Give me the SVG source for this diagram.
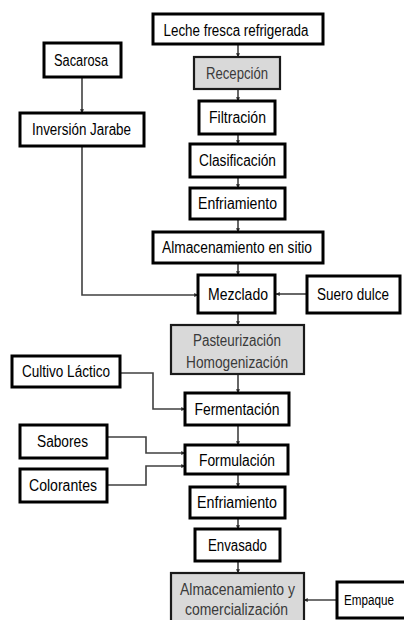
<svg xmlns="http://www.w3.org/2000/svg" width="404" height="620" viewBox="0 0 404 620">
<style>
.b{fill:#fff;stroke:#000;stroke-width:3}
.g{fill:#d9d9d9;stroke:#1a1a1a;stroke-width:2.2}
.t{font-family:"Liberation Sans Narrow","Liberation Sans",Arial,sans-serif;font-size:16px;fill:#000;text-anchor:middle}
.tg{font-family:"Liberation Sans Narrow","Liberation Sans",Arial,sans-serif;font-size:16px;fill:#3a3a3a;text-anchor:middle}
.c{fill:none;stroke:#404040;stroke-width:1.6}
</style>
<defs>
<marker id="a" viewBox="0 0 8 8" refX="7.5" refY="4" markerWidth="4" markerHeight="4" orient="auto" markerUnits="userSpaceOnUse">
<path d="M0,0 L8,4 L0,8 Z" fill="#262626"/>
</marker>
</defs>
<rect width="404" height="620" fill="#fff"/>
<g id="connectors">
<path class="c" marker-end="url(#a)" d="M238,44 V57"/>
<path class="c" marker-end="url(#a)" d="M238,89 V101"/>
<path class="c" marker-end="url(#a)" d="M238,134 V144"/>
<path class="c" marker-end="url(#a)" d="M238,177 V188"/>
<path class="c" marker-end="url(#a)" d="M238,219 V232"/>
<path class="c" marker-end="url(#a)" d="M238,263 V275"/>
<path class="c" marker-end="url(#a)" d="M238,313 V325"/>
<path class="c" marker-end="url(#a)" d="M238,374 V393"/>
<path class="c" marker-end="url(#a)" d="M238,425 V445"/>
<path class="c" marker-end="url(#a)" d="M238,474 V487"/>
<path class="c" marker-end="url(#a)" d="M238,518 V529"/>
<path class="c" marker-end="url(#a)" d="M238,561 V573"/>
<path class="c" marker-end="url(#a)" d="M82,77 V113"/>
<path class="c" marker-end="url(#a)" d="M82,146 V295 H198"/>
<path class="c" marker-end="url(#a)" d="M307,294 H276"/>
<path class="c" marker-end="url(#a)" d="M120,373 H153 V409 H185"/>
<path class="c" marker-end="url(#a)" d="M107,437 H146 V453 H185"/>
<path class="c" marker-end="url(#a)" d="M107,485 H146 V466 H185"/>
<path class="c" marker-end="url(#a)" d="M337,600 H304"/>
</g>
<g id="leche"><rect class="b" x="153" y="14" width="170" height="30"/><text class="t" x="236" y="36" textLength="145" lengthAdjust="spacingAndGlyphs">Leche fresca refrigerada</text></g>
<g id="recepcion"><rect class="g" x="194" y="57" width="86" height="32"/><text class="tg" x="237" y="79" textLength="62" lengthAdjust="spacingAndGlyphs">Recepción</text></g>
<g id="filtracion"><rect class="b" x="199" y="101" width="76" height="33"/><text class="t" x="237.5" y="123" textLength="57" lengthAdjust="spacingAndGlyphs">Filtración</text></g>
<g id="clasificacion"><rect class="b" x="190" y="144" width="95" height="33"/><text class="t" x="237.5" y="166" textLength="77" lengthAdjust="spacingAndGlyphs">Clasificación</text></g>
<g id="enfriamiento1"><rect class="b" x="190" y="188" width="95" height="31"/><text class="t" x="237.5" y="209" textLength="79" lengthAdjust="spacingAndGlyphs">Enfriamiento</text></g>
<g id="almacenamiento-sitio"><rect class="b" x="153" y="232" width="170" height="31"/><text class="t" x="237" y="253" textLength="150" lengthAdjust="spacingAndGlyphs">Almacenamiento en sitio</text></g>
<g id="mezclado"><rect class="b" x="198" y="275" width="77" height="38"/><text class="t" x="238" y="300" textLength="60" lengthAdjust="spacingAndGlyphs">Mezclado</text></g>
<g id="suero"><rect class="b" x="307" y="276" width="93" height="37"/><text class="t" x="353" y="300" textLength="72" lengthAdjust="spacingAndGlyphs">Suero dulce</text></g>
<g id="pasteurizacion"><rect class="g" x="171" y="325" width="133" height="49"/><text class="tg" x="237" y="346" textLength="88" lengthAdjust="spacingAndGlyphs">Pasteurización</text><text class="tg" x="237" y="368" textLength="102" lengthAdjust="spacingAndGlyphs">Homogenización</text></g>
<g id="cultivo"><rect class="b" x="12" y="356" width="108" height="31"/><text class="t" x="66" y="377" textLength="88" lengthAdjust="spacingAndGlyphs">Cultivo Láctico</text></g>
<g id="fermentacion"><rect class="b" x="185" y="393" width="104" height="32"/><text class="t" x="237" y="415" textLength="85" lengthAdjust="spacingAndGlyphs">Fermentación</text></g>
<g id="sabores"><rect class="b" x="20" y="425" width="87" height="33"/><text class="t" x="62.5" y="447" textLength="51" lengthAdjust="spacingAndGlyphs">Sabores</text></g>
<g id="formulacion"><rect class="b" x="185" y="445" width="103" height="29"/><text class="t" x="237" y="466" textLength="76" lengthAdjust="spacingAndGlyphs">Formulación</text></g>
<g id="colorantes"><rect class="b" x="20" y="469" width="87" height="33"/><text class="t" x="63" y="491" textLength="68" lengthAdjust="spacingAndGlyphs">Colorantes</text></g>
<g id="enfriamiento2"><rect class="b" x="190" y="487" width="95" height="31"/><text class="t" x="237" y="508" textLength="80" lengthAdjust="spacingAndGlyphs">Enfriamiento</text></g>
<g id="envasado"><rect class="b" x="195" y="529" width="85" height="32"/><text class="t" x="237.5" y="551" textLength="59" lengthAdjust="spacingAndGlyphs">Envasado</text></g>
<g id="almacenamiento-comercializacion"><rect class="g" x="171" y="573" width="133" height="60"/><text class="tg" x="237.5" y="595" textLength="115" lengthAdjust="spacingAndGlyphs">Almacenamiento y</text><text class="tg" x="236.5" y="615" textLength="103" lengthAdjust="spacingAndGlyphs">comercialización</text></g>
<g id="empaque"><rect class="b" x="337" y="582" width="75" height="36"/><text class="t" x="369" y="605" style="font-size:14px" textLength="50" lengthAdjust="spacingAndGlyphs">Empaque</text></g>
<g id="sacarosa"><rect class="b" x="44" y="43" width="77" height="34"/><text class="t" x="81" y="66" textLength="54" lengthAdjust="spacingAndGlyphs">Sacarosa</text></g>
<g id="inversion"><rect class="b" x="20" y="113" width="124" height="33"/><text class="t" x="81.5" y="135" textLength="99" lengthAdjust="spacingAndGlyphs">Inversión Jarabe</text></g>
</svg>
